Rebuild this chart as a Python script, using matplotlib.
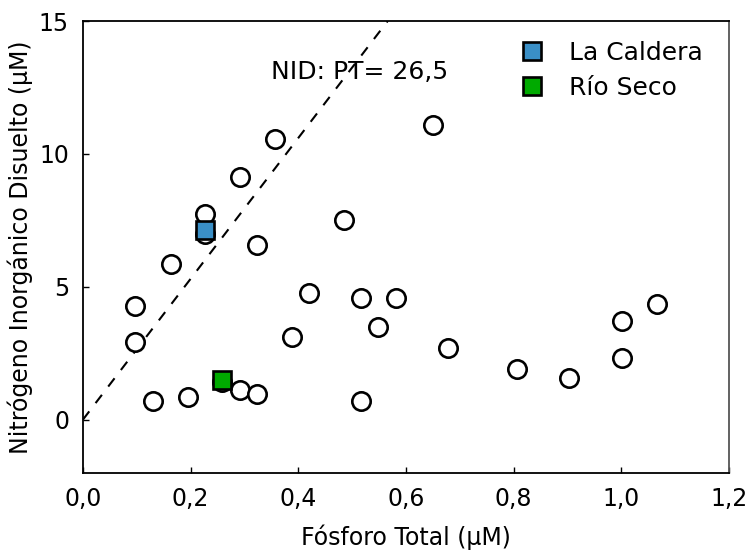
import matplotlib
matplotlib.use("Agg")
import matplotlib.pyplot as plt
from matplotlib.ticker import FuncFormatter

# Open circles (all samples)
pt_all = [0.097, 0.097, 0.130, 0.195, 0.258, 0.291, 0.323, 0.388, 0.420, 0.516,
          0.516, 0.548, 0.581, 0.678, 0.806, 0.903, 1.001, 1.001, 1.066, 0.650,
          0.163, 0.227, 0.227, 0.292, 0.357, 0.323, 0.485]
nid_all = [4.29, 2.93, 0.71, 0.86, 1.40, 1.13, 0.98, 3.12, 4.77, 4.59,
           0.71, 3.50, 4.59, 2.71, 1.92, 1.58, 2.33, 3.72, 4.36, 11.09,
           5.86, 7.74, 6.99, 9.14, 10.56, 6.58, 7.52]

# Highlighted sites
sites = ["La Caldera", "Río Seco"]
site_pt = [0.227, 0.258]
site_nid = [7.14, 1.50]
site_colors = ["#3A8FC6", "#00AA00"]

ratio = 26.5
xticks = [0.0, 0.2, 0.4, 0.6, 0.8, 1.0, 1.2]
yticks = [0, 5, 10, 15]

plt.rcParams['font.family'] = ['DejaVu Sans']

fig = plt.figure(figsize=(7.47, 5.53), dpi=100)
ax = fig.add_axes([0.111, 0.145, 0.865, 0.817])

# reference line NID = 26.5 * PT
xl = [0.0, 15 / ratio]
ax.plot(xl, [ratio * v for v in xl], linestyle=(0, (5, 5)), color='black',
        linewidth=1.5, zorder=1)

ax.scatter(pt_all, nid_all, s=175, facecolors='white', edgecolors='black',
           linewidths=1.9, zorder=2)

for name, x, y, c in zip(sites, site_pt, site_nid, site_colors):
    ax.plot([x], [y], marker='s', linestyle='none', markersize=12.5,
            markerfacecolor=c, markeredgecolor='black', markeredgewidth=1.9,
            label=name, zorder=3)

ax.text(0.349, 13.1, "NID: PT= 26,5", fontsize=18, va='center', ha='left')

ax.set_xlim(0, 1.2)
ax.set_ylim(-2, 15)
ax.set_xticks(xticks)
ax.set_yticks(yticks)
ax.xaxis.set_major_formatter(FuncFormatter(lambda v, p: f"{v:.1f}".replace('.', ',')))
ax.yaxis.set_major_formatter(FuncFormatter(lambda v, p: f"{v:.0f}"))
ax.tick_params(direction='in', length=4, width=1, labelsize=17, pad=10,
               top=False, right=False)

ax.set_xlabel("Fósforo Total (µM)", fontsize=17, labelpad=10)
ax.set_ylabel("Nitrógeno Inorgánico Disuelto (µM)", fontsize=17, labelpad=4)

for s in ['left', 'bottom', 'top']:
    ax.spines[s].set_color('black')
    ax.spines[s].set_linewidth(1.3)
ax.spines['right'].set_color('#555555')
ax.spines['right'].set_linewidth(1.3)

leg = ax.legend(loc='upper left', bbox_to_anchor=(0.648, 0.995), frameon=False,
                fontsize=18, handlelength=1.0, handletextpad=1.0,
                labelspacing=0.45, borderpad=0.2)

fig.savefig("out.png", dpi=100)
